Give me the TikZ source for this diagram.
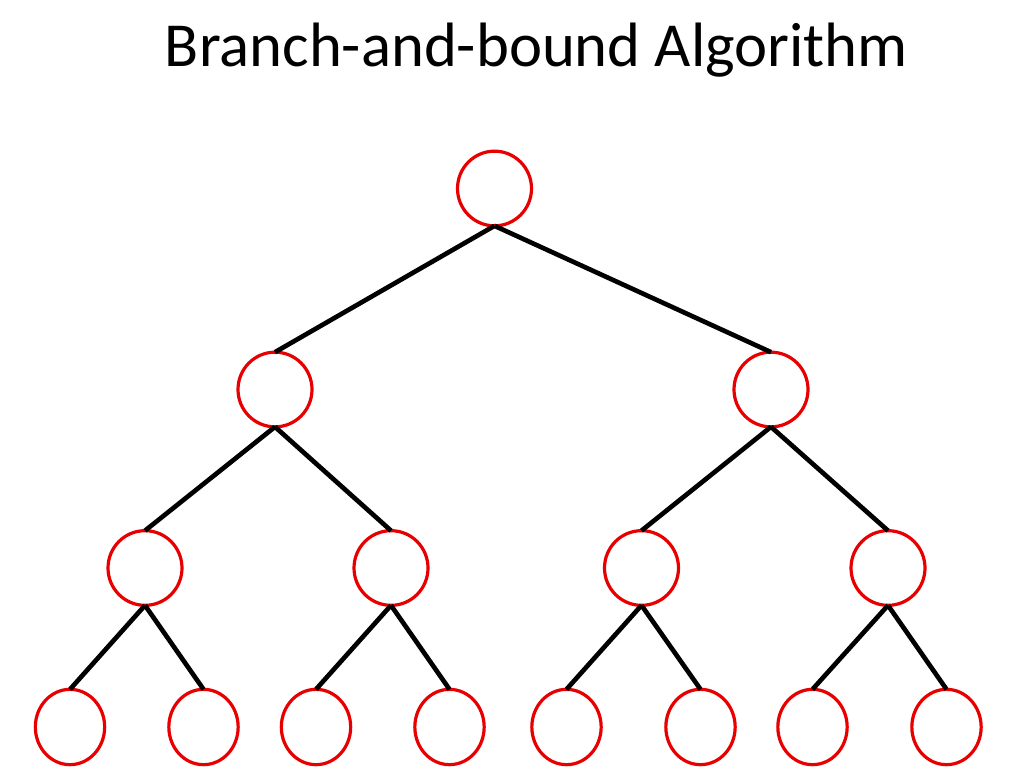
\documentclass[tikz,border=0pt]{standalone}
\usepackage{fontspec}
\setmainfont{Carlito}
\usetikzlibrary{shapes.geometric}
\definecolor{nodered}{RGB}{232,0,0}
\begin{document}
\begin{tikzpicture}[x=0.75pt,y=-0.75pt,
  tnode/.style={draw=nodered, line width=2.4pt, ellipse, inner sep=0pt, outer sep=0pt, minimum width=55.5pt, minimum height=56pt},
  leaf/.style={tnode, minimum width=52pt, minimum height=56.5pt},
  edge/.style={draw=black, line width=3.5pt}]
\useasboundingbox (0,0) rectangle (1024,768);
\node[anchor=base, font=\fontsize{47}{51}\selectfont] (title) at (536.5,66) {Branch-and-bound Algorithm};
\node[tnode] (r) at (494.5,188.5) {};
\node[tnode] (a) at (275,389.5) {};
\node[tnode] (b) at (771,389.5) {};
\node[tnode] (aa) at (145,568) {};
\node[tnode] (ab) at (391,568) {};
\node[tnode] (ba) at (641.5,568) {};
\node[tnode] (bb) at (888,568) {};
\node[leaf] (l1) at (70,727) {};
\node[leaf] (l2) at (203.5,727) {};
\node[leaf] (l3) at (316,727) {};
\node[leaf] (l4) at (449.5,727) {};
\node[leaf] (l5) at (566.5,727) {};
\node[leaf] (l6) at (700.5,727) {};
\node[leaf] (l7) at (812.5,727) {};
\node[leaf] (l8) at (946.5,727) {};
\foreach \p/\c in {r/a,r/b,a/aa,a/ab,b/ba,b/bb,aa/l1,aa/l2,ab/l3,ab/l4,ba/l5,ba/l6,bb/l7,bb/l8}
  \draw[edge] (\p.south) -- (\c.north);
\end{tikzpicture}
\end{document}
